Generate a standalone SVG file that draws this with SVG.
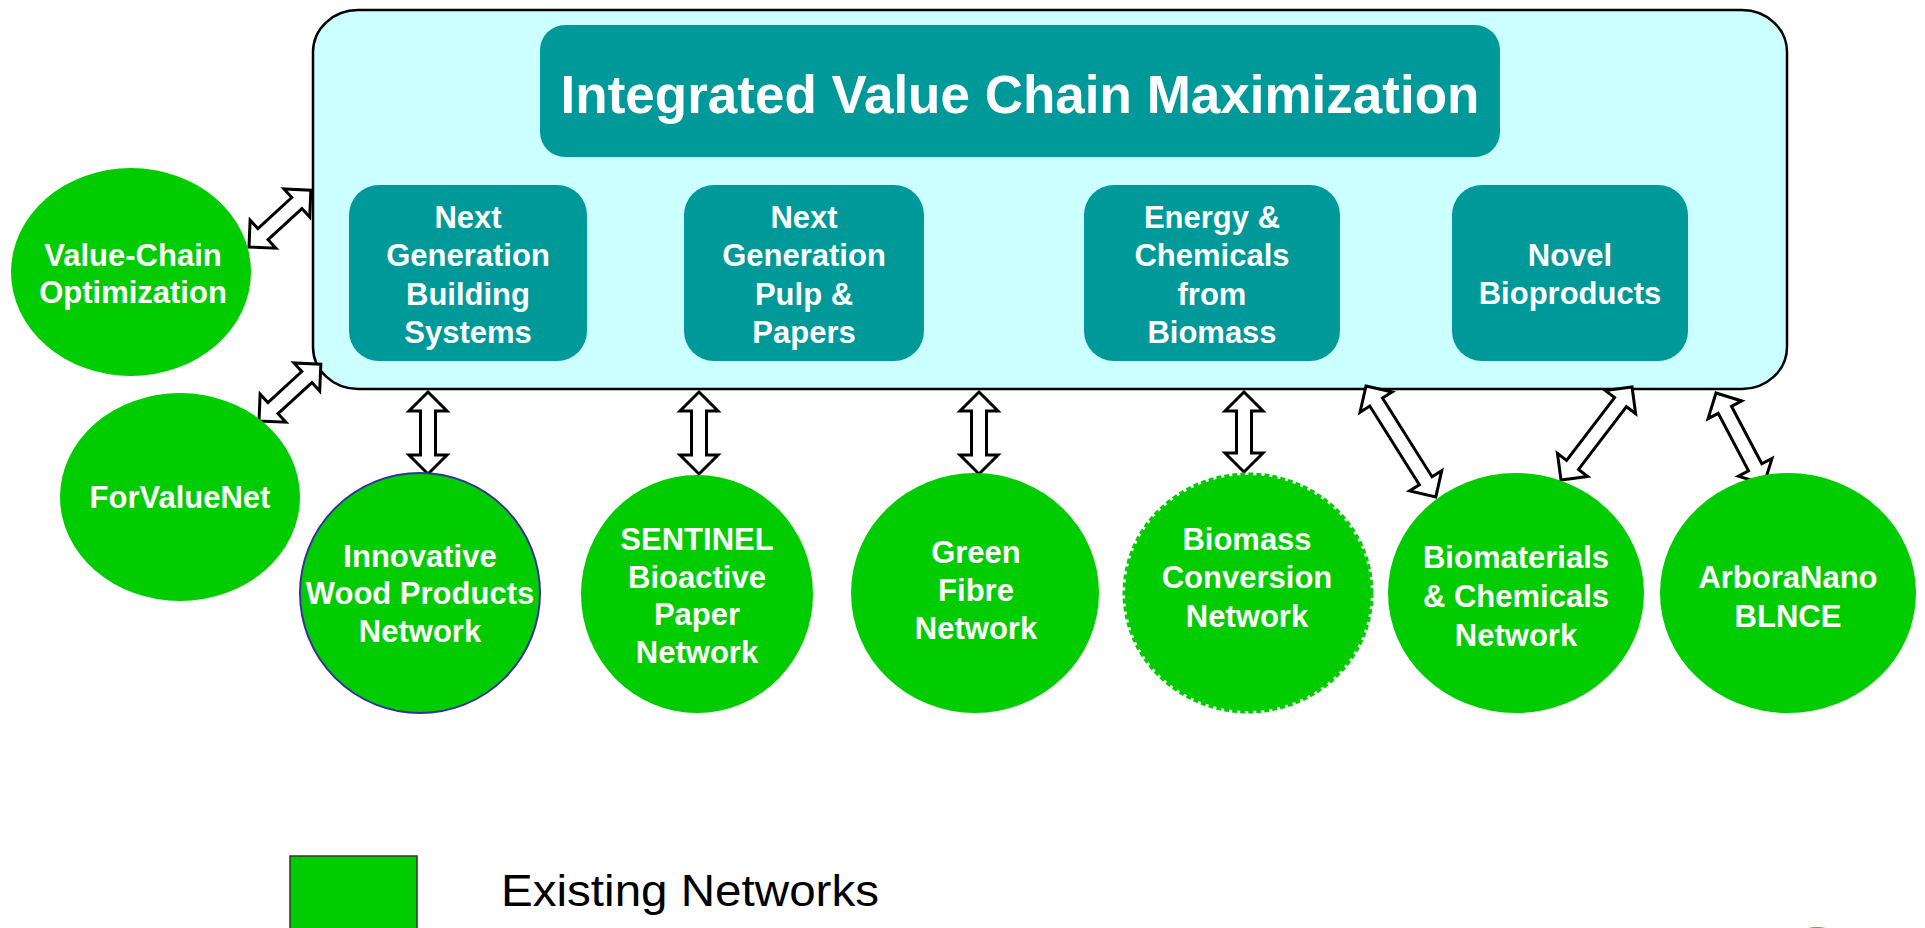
<svg xmlns="http://www.w3.org/2000/svg" width="1925" height="928" viewBox="0 0 1925 928">
<style>
.net{fill:#00CC00}
.sub{fill:#009999}
.lbl{font-family:"Liberation Sans",Arial,sans-serif;font-weight:bold;fill:#fff;font-size:31px;text-anchor:middle}
.dbl{fill:#fff;stroke:#000;stroke-width:3;stroke-linejoin:miter}
</style>
<rect width="1925" height="928" fill="#fff"/>
<g id="main">
<rect x="313" y="10" width="1474" height="379" rx="45" ry="42" fill="#CCFFFF" stroke="#000" stroke-width="2.5"/>
</g>
<g id="title">
<rect x="540" y="25" width="960" height="132" rx="25" class="sub"/>
<text x="1020" y="113" class="lbl" style="font-size:53px">Integrated Value Chain Maximization</text>
</g>
<g id="box-building">
<rect x="349" y="185" width="238" height="176" rx="30" class="sub"/>
<text class="lbl"><tspan x="468" y="228">Next</tspan><tspan x="468" y="266">Generation</tspan><tspan x="468" y="305">Building</tspan><tspan x="468" y="343">Systems</tspan></text>
</g>
<g id="box-pulp">
<rect x="684" y="185" width="240" height="176" rx="30" class="sub"/>
<text class="lbl"><tspan x="804" y="228">Next</tspan><tspan x="804" y="266">Generation</tspan><tspan x="804" y="305">Pulp &amp;</tspan><tspan x="804" y="343">Papers</tspan></text>
</g>
<g id="box-energy">
<rect x="1084" y="185" width="256" height="176" rx="30" class="sub"/>
<text class="lbl"><tspan x="1212" y="228">Energy &amp;</tspan><tspan x="1212" y="266">Chemicals</tspan><tspan x="1212" y="305">from</tspan><tspan x="1212" y="343">Biomass</tspan></text>
</g>
<g id="box-novel">
<rect x="1452" y="185" width="236" height="176" rx="30" class="sub"/>
<text class="lbl"><tspan x="1570" y="266">Novel</tspan><tspan x="1570" y="304">Bioproducts</tspan></text>
</g>
<g id="connectors">
<path class="dbl" transform="translate(249,247) rotate(-42.6)" d="M0,0 L19,-19 L19,-7.5 L65,-7.5 L65,-19 L84,0 L65,19 L65,7.5 L19,7.5 L19,19 Z"/>
<path class="dbl" transform="translate(259,421) rotate(-42.6)" d="M0,0 L19,-19 L19,-7.5 L65,-7.5 L65,-19 L84,0 L65,19 L65,7.5 L19,7.5 L19,19 Z"/>
<path class="dbl" transform="translate(428,392) rotate(90)" d="M0,0 L19,-19 L19,-7.5 L63,-7.5 L63,-19 L82,0 L63,19 L63,7.5 L19,7.5 L19,19 Z"/>
<path class="dbl" transform="translate(699,392) rotate(90)" d="M0,0 L19,-19 L19,-7.5 L63,-7.5 L63,-19 L82,0 L63,19 L63,7.5 L19,7.5 L19,19 Z"/>
<path class="dbl" transform="translate(979,392) rotate(90)" d="M0,0 L19,-19 L19,-7.5 L63,-7.5 L63,-19 L82,0 L63,19 L63,7.5 L19,7.5 L19,19 Z"/>
<path class="dbl" transform="translate(1244,392) rotate(90)" d="M0,0 L19,-19 L19,-7.5 L61,-7.5 L61,-19 L80,0 L61,19 L61,7.5 L19,7.5 L19,19 Z"/>
<path class="dbl" transform="translate(1366,386) rotate(57.8)" d="M0,0 L19,-19 L19,-7.5 L112,-7.5 L112,-19 L131,0 L112,19 L112,7.5 L19,7.5 L19,19 Z"/>
<path class="dbl" transform="translate(1561,480) rotate(-52.6)" d="M0,0 L19,-19 L19,-7.5 L98,-7.5 L98,-19 L117,0 L98,19 L98,7.5 L19,7.5 L19,19 Z"/>
<path class="dbl" transform="translate(1716,393) rotate(62.2)" d="M0,0 L19,-19 L19,-7.5 L84,-7.5 L84,-19 L103,0 L84,19 L84,7.5 L19,7.5 L19,19 Z"/>
</g>
<g id="net-valuechain">
<ellipse cx="131" cy="272" rx="120" ry="104" class="net"/>
<text class="lbl"><tspan x="133" y="266">Value-Chain</tspan><tspan x="133" y="303">Optimization</tspan></text>
</g>
<g id="net-forvaluenet">
<ellipse cx="180" cy="497" rx="120" ry="104" class="net"/>
<text class="lbl"><tspan x="180" y="508">ForValueNet</tspan></text>
</g>
<g id="net-wood">
<ellipse cx="420" cy="593" rx="120" ry="120" class="net" stroke="#333399" stroke-width="2"/>
<text class="lbl"><tspan x="420" y="567">Innovative</tspan><tspan x="420" y="604">Wood Products</tspan><tspan x="420" y="642">Network</tspan></text>
</g>
<g id="net-sentinel">
<ellipse cx="697" cy="594" rx="116" ry="119" class="net"/>
<text class="lbl"><tspan x="697" y="550">SENTINEL</tspan><tspan x="697" y="588">Bioactive</tspan><tspan x="697" y="625">Paper</tspan><tspan x="697" y="663">Network</tspan></text>
</g>
<g id="net-greenfibre">
<ellipse cx="975" cy="593" rx="124" ry="120" class="net"/>
<text class="lbl"><tspan x="976" y="563">Green</tspan><tspan x="976" y="601">Fibre</tspan><tspan x="976" y="639">Network</tspan></text>
</g>
<g id="net-biomass">
<ellipse cx="1248" cy="593" rx="123" ry="118" class="net" stroke="#00CC00" stroke-width="5" stroke-dasharray="5 3"/>
<text class="lbl"><tspan x="1247" y="550">Biomass</tspan><tspan x="1247" y="588">Conversion</tspan><tspan x="1247" y="627">Network</tspan></text>
</g>
<g id="net-biomaterials">
<ellipse cx="1516" cy="593" rx="128" ry="120" class="net"/>
<text class="lbl"><tspan x="1516" y="568">Biomaterials</tspan><tspan x="1516" y="607">&amp; Chemicals</tspan><tspan x="1516" y="646">Network</tspan></text>
</g>
<g id="net-arboranano">
<ellipse cx="1788" cy="593" rx="128" ry="120" class="net"/>
<text class="lbl"><tspan x="1788" y="588">ArboraNano</tspan><tspan x="1788" y="627">BLNCE</tspan></text>
</g>
<g id="legend">
<rect x="290" y="856" width="127" height="80" class="net" stroke="#333" stroke-width="1.5"/>
<text x="501" y="906" font-family="Liberation Sans, Arial, sans-serif" font-size="45" fill="#000" textLength="378" lengthAdjust="spacingAndGlyphs">Existing Networks</text>
</g>
<ellipse cx="1817" cy="937" rx="20" ry="10" fill="#55BB00"/>
</svg>
